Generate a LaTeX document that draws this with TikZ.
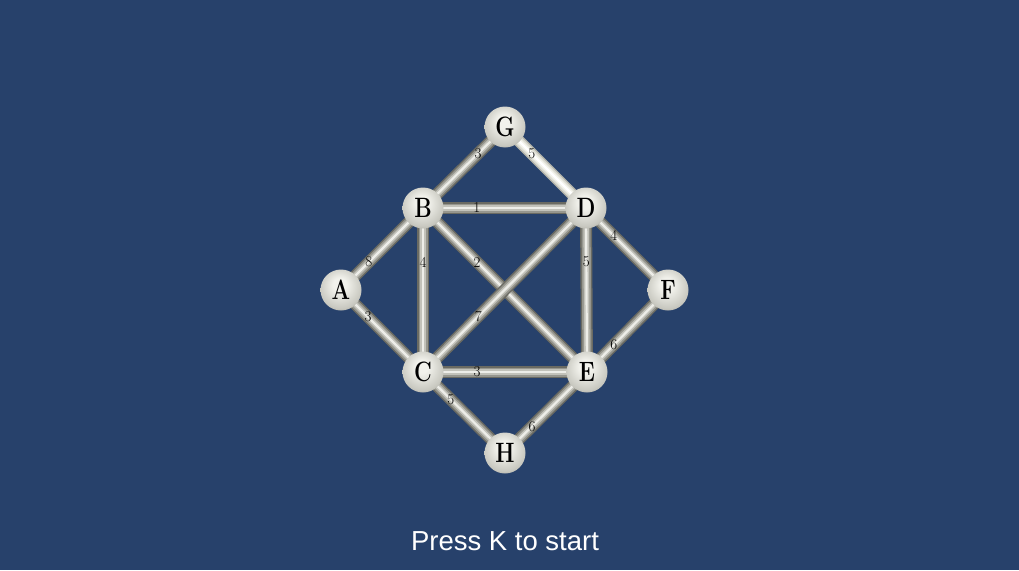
\documentclass[tikz,border=0pt]{standalone}
\usepackage{fontspec}
\newfontfamily\uisans{Liberation Sans}
\definecolor{bgblue}{HTML}{27416B}
\definecolor{tubeA}{HTML}{6A6A62}
\definecolor{tubeB}{HTML}{96968E}
\definecolor{tubeC}{HTML}{C2C2BA}
\definecolor{tubeD}{HTML}{EDEDE8}
\definecolor{hiA}{HTML}{B4B4AA}
\definecolor{hiB}{HTML}{DADAD0}
\definecolor{hiC}{HTML}{F2F2EA}
\definecolor{sphC}{HTML}{F2F2EC}
\definecolor{sphM}{HTML}{C8C8C0}
\definecolor{sphE}{HTML}{827F72}
\pgfdeclareradialshading{sphere}{\pgfpoint{-2bp}{8bp}}{%
  color(0bp)=(sphC); color(8bp)=(sphC); color(26bp)=(sphM); color(40bp)=(sphE); color(50bp)=(sphE)}
\pgfdeclarelayer{bg}
\pgfdeclarelayer{edges}
\pgfsetlayers{bg,edges,main}
\newcommand{\balltext}[1]{\scalebox{0.78}[1]{#1}}
\begin{document}
\begin{tikzpicture}[x=1pt,y=-1pt,
  ball/.style={circle, minimum size=41pt, inner sep=0pt, shading=sphere,
    font=\bfseries\fontsize{28}{28}\selectfont, text=black},
  tube/.style={line width=12pt, draw=tubeA,
    postaction={draw=tubeB, line width=9pt},
    postaction={draw=tubeC, line width=5.5pt},
    postaction={draw=tubeD, line width=2.2pt}},
  hitube/.style={line width=12pt, draw=hiA,
    postaction={draw=hiB, line width=9pt},
    postaction={draw=hiC, line width=5.5pt},
    postaction={draw=white, line width=2.2pt}},
  lbl/.style={font=\fontsize{15}{15}\selectfont, text=black, inner sep=0pt}]
\begin{pgfonlayer}{bg}
\fill[bgblue] (0,0) rectangle (1019,570);
\end{pgfonlayer}
\useasboundingbox (0,0) rectangle (1019,570);

\node[ball] (G) at (505,127) {\balltext{G}};
\node[ball] (B) at (423,208) {\balltext{B}};
\node[ball] (D) at (586,208) {\balltext{D}};
\node[ball] (A) at (341,290) {\balltext{A}};
\node[ball] (F) at (668,290) {\balltext{F}};
\node[ball] (C) at (423,372) {\balltext{C}};
\node[ball] (E) at (587,372) {\balltext{E}};
\node[ball] (H) at (505,453) {\balltext{H}};

\begin{pgfonlayer}{edges}
\draw[tube] (G.center) -- (B.center) node[lbl, pos=.33] {3};
\draw[hitube] (G.center) -- (D.center) node[lbl, pos=.33] {5};
\draw[tube] (B.center) -- (D.center) node[lbl, pos=.33] {1};
\draw[tube] (A.center) -- (B.center) node[lbl, pos=.34] {8};
\draw[tube] (B.center) -- (C.center) node[lbl, pos=.33] {4};
\draw[tube] (B.center) -- (E.center) node[lbl, pos=.33] {2};
\draw[tube] (C.center) -- (D.center) node[lbl, pos=.34] {7};
\draw[tube] (D.center) -- (E.center) node[lbl, pos=.33] {5};
\draw[tube] (D.center) -- (F.center) node[lbl, pos=.34] {4};
\draw[tube] (A.center) -- (C.center) node[lbl, pos=.33] {3};
\draw[tube] (C.center) -- (E.center) node[lbl, pos=.33] {3};
\draw[tube] (E.center) -- (F.center) node[lbl, pos=.33] {6};
\draw[tube] (C.center) -- (H.center) node[lbl, pos=.34] {5};
\draw[tube] (H.center) -- (E.center) node[lbl, pos=.33] {6};
\end{pgfonlayer}

\node[text=white, font=\uisans\fontsize{27.5}{27.5}\selectfont, inner sep=0pt] (start) at (505,541) {Press K to start};
\end{tikzpicture}
\end{document}
